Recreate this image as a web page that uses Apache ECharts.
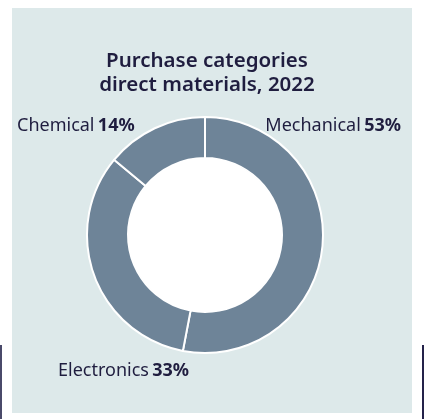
<!DOCTYPE html>
<html>
<head>
<meta charset="utf-8">
<script src="https://cdn.jsdelivr.net/npm/echarts@6/dist/echarts.min.js"></script>
<style>
html,body{margin:0;padding:0;background:#ffffff;}
#chart{width:427px;height:419px;}
</style>
</head>
<body>
<div id="chart"></div>
<script>
var categories = ['Mechanical', 'Electronics', 'Chemical'];
var shares = [53, 33, 14];
var titleLines = ['Purchase categories', 'direct materials, 2022'];

var labelPos = [
  {x: 401, y: 126, align: 'right'},
  {x: 58, y: 371, align: 'left'},
  {x: 17, y: 126, align: 'left'}
];

var chart = echarts.init(document.getElementById('chart'));
var textColor = '#1f1d3f';
var font = 'Noto Sans';
chart.setOption({
  animation: false,
  graphic: [
    {type: 'rect', shape: {x: 12, y: 8, width: 400, height: 405}, style: {fill: '#dde9ea'}, z: -10},
    {type: 'rect', shape: {x: 0, y: 345, width: 2, height: 74}, style: {fill: '#4a4a6a'}, z: -10},
    {type: 'rect', shape: {x: 422, y: 345, width: 2, height: 74}, style: {fill: '#24224a'}, z: -10},
    {type: 'circle', shape: {cx: 205, cy: 235, r: 78}, style: {fill: '#ffffff'}, z: -5}
  ],
  title: {
    text: titleLines.join('\n'),
    left: 202,
    top: 44,
    textAlign: 'center',
    textStyle: {
      fontFamily: font,
      fontSize: 20.5,
      fontWeight: 600,
      color: textColor,
      lineHeight: 24
    }
  },
  series: [{
    type: 'pie',
    center: [205, 235],
    radius: [77, 118],
    startAngle: 90,
    clockwise: true,
    itemStyle: {color: '#6e8498', borderColor: '#ffffff', borderWidth: 2},
    emphasis: {disabled: true},
    labelLine: {show: false},
    label: {
      show: true,
      position: 'outside',
      overflow: 'none',
      width: 300,
      formatter: function (p) { return '{n|' + p.name + '} {v|' + p.value + '%}'; },
      rich: {
        n: {fontFamily: font, fontSize: 18, color: textColor},
        v: {fontFamily: font, fontSize: 18, fontWeight: 'bold', color: textColor}
      }
    },
    labelLayout: function (params) {
      var p = labelPos[params.dataIndex];
      return {x: p.x, y: p.y, align: p.align, verticalAlign: 'middle', hideOverlap: false};
    },
    data: categories.map(function (c, i) { return {name: c, value: shares[i]}; })
  }]
});
</script>
</body>
</html>
